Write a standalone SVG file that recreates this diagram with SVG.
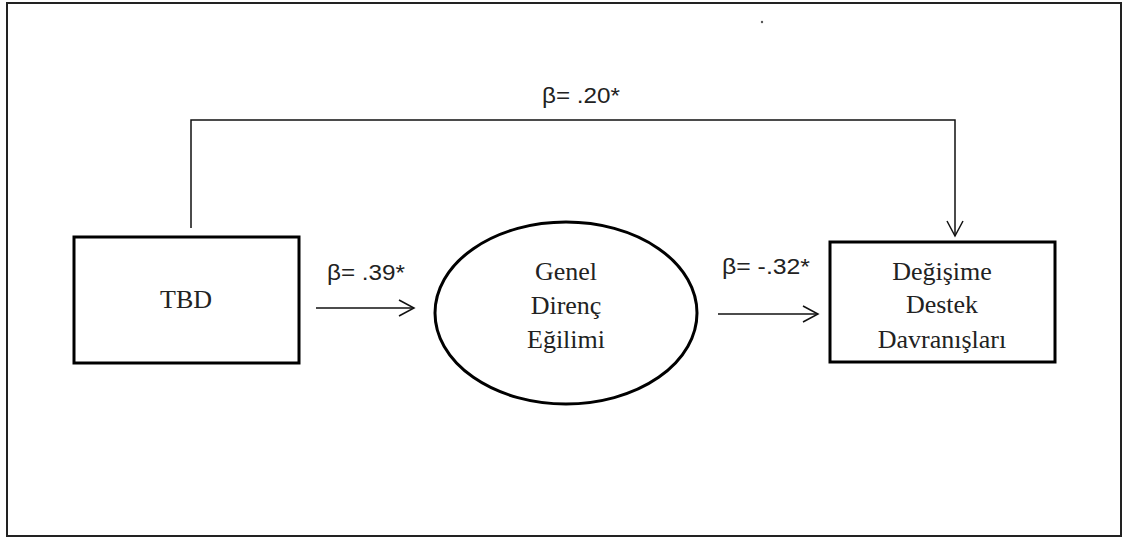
<svg xmlns="http://www.w3.org/2000/svg" width="1125" height="539" viewBox="0 0 1125 539">
<style>
.node{fill:#fff;stroke:#000;stroke-width:3}
.lbl{font-family:"Times New Roman","Liberation Serif",serif;font-size:26px;fill:#222;text-anchor:middle}
.beta{font-family:"Liberation Sans",Arial,sans-serif;font-size:22px;fill:#222}
.conn{fill:none;stroke:#111;stroke-width:1.5}
</style>
<defs>
<marker id="arr" viewBox="0 0 20 20" refX="18" refY="10" markerWidth="20" markerHeight="20" markerUnits="userSpaceOnUse" orient="auto">
<path d="M3,2 L18,10 L3,18" fill="none" stroke="#111" stroke-width="1.5"/>
</marker>
</defs>
<rect x="0" y="0" width="1125" height="539" fill="#fff"/>
<rect x="7" y="3" width="1114" height="533" fill="#fff" stroke="#222" stroke-width="2"/>
<circle cx="762" cy="22" r="1.2" fill="#555"/>
<g id="connectors">
<path class="conn" d="M191,228 V120 H955 V236" marker-end="url(#arr)"/>
<path class="conn" d="M316,308 H414" marker-end="url(#arr)"/>
<path class="conn" d="M718,314 H818" marker-end="url(#arr)"/>
<text class="beta" x="542" y="103" textLength="78" lengthAdjust="spacingAndGlyphs">β= .20*</text>
<text class="beta" x="327" y="280" textLength="78" lengthAdjust="spacingAndGlyphs">β= .39*</text>
<text class="beta" x="722" y="274" textLength="88" lengthAdjust="spacingAndGlyphs">β= -.32*</text>
</g>
<g id="node-tbd">
<rect class="node" x="74" y="237" width="225" height="126"/>
<text class="lbl" x="186" y="308">TBD</text>
</g>
<g id="node-genel">
<ellipse class="node" cx="566" cy="313" rx="131" ry="91"/>
<text class="lbl" x="566" y="280">Genel</text>
<text class="lbl" x="566" y="314">Direnç</text>
<text class="lbl" x="566" y="348">Eğilimi</text>
</g>
<g id="node-degisime">
<rect class="node" x="830" y="242" width="225" height="120"/>
<text class="lbl" x="942" y="280">Değişime</text>
<text class="lbl" x="942" y="313">Destek</text>
<text class="lbl" x="942" y="348">Davranışları</text>
</g>
</svg>
